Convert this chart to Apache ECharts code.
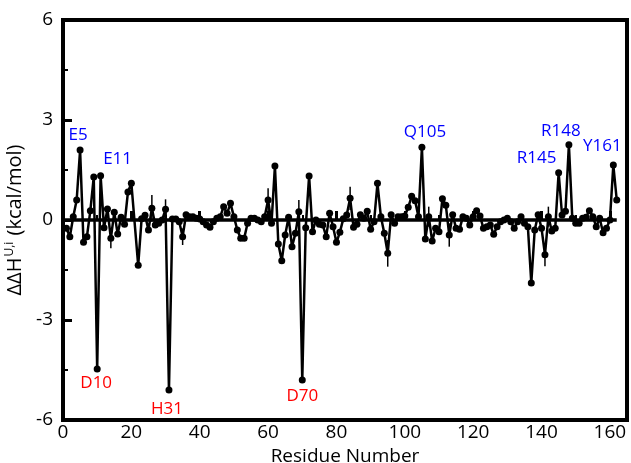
<!DOCTYPE html>
<html>
<head>
<meta charset="utf-8">
<script src="https://cdn.jsdelivr.net/npm/echarts@6/dist/echarts.min.js"></script>
<style>html,body{margin:0;padding:0;background:#fff;}#c{width:631px;height:463px;}</style>
</head>
<body>
<div id="c"></div>
<script>
// Residue numbers (residue 21 absent in the data)
const residues = [
  1,2,3,4,5,6,7,8,9,10,11,12,13,14,15,16,17,18,19,20,
  22,23,24,25,26,27,28,29,30,31,32,33,34,35,36,37,38,39,40,
  41,42,43,44,45,46,47,48,49,50,51,52,53,54,55,56,57,58,59,60,
  61,62,63,64,65,66,67,68,69,70,71,72,73,74,75,76,77,78,79,80,
  81,82,83,84,85,86,87,88,89,90,91,92,93,94,95,96,97,98,99,100,
  101,102,103,104,105,106,107,108,109,110,111,112,113,114,115,116,117,118,119,120,
  121,122,123,124,125,126,127,128,129,130,131,132,133,134,135,136,137,138,139,140,
  141,142,143,144,145,146,147,148,149,150,151,152,153,154,155,156,157,158,159,160,
  161,162
];
// ΔΔH (kcal/mol) per residue
const ddH = [
  -0.25,-0.5,0.1,0.6,2.1,-0.67,-0.5,0.28,1.29,-4.47,1.33,-0.23,0.33,-0.55,0.23,-0.42,0.08,-0.13,0.84,1.1,
  -1.36,0.04,0.14,-0.3,0.35,-0.15,-0.1,0.0,0.32,-5.1,0.03,0.03,-0.05,-0.5,0.16,0.1,0.1,0.05,0.03,
  -0.05,-0.15,-0.22,-0.05,0.05,0.1,0.4,0.2,0.5,0.1,-0.3,-0.55,-0.55,-0.1,0.05,0.05,0.0,-0.05,0.1,0.6,
  -0.1,1.62,-0.72,-1.22,-0.45,0.08,-0.8,-0.4,0.25,-4.8,-0.23,1.32,-0.35,0.0,-0.13,-0.15,-0.5,0.2,-0.2,-0.67,
  -0.37,0.04,0.15,0.65,-0.22,-0.13,0.16,0.05,0.26,-0.28,-0.05,1.1,0.1,-0.4,-1.0,0.16,-0.1,0.1,0.1,0.12,
  0.38,0.71,0.58,0.1,2.18,-0.57,0.1,-0.63,-0.25,-0.35,0.64,0.44,-0.45,0.16,-0.25,-0.28,0.1,0.05,-0.15,0.1,
  0.28,0.12,-0.25,-0.2,-0.15,-0.43,-0.2,-0.05,0.0,0.05,-0.05,-0.25,-0.05,0.1,-0.1,-0.2,-1.89,-0.3,0.16,-0.25,
  -1.04,0.1,-0.33,-0.25,1.42,0.15,0.26,2.26,0.05,-0.1,-0.1,0.05,0.08,0.28,0.1,-0.2,0.05,-0.38,-0.25,0.0,
  1.65,0.6
];
// visible error bars: residue and half-width
const errResidues = [14,26,30,35,60,69,84,95,107,113,141,142];
const errValues   = [0.3,0.4,0.3,0.25,0.35,0.35,0.35,0.4,0.3,0.35,0.35,0.3];
// annotated residues
const annotations = ['E5','D10','E11','H31','D70','Q105','R145','R148','Y161'];
const xTicks = [0,20,40,60,80,100,120,140,160];
const yTicks = [-6,-3,0,3,6];

const FONT = 'Open Sans';
const labelOffsets = {
  E5:[-2,-15], D10:[-1,14], E11:[17,-17], H31:[-2,19], D70:[0,16],
  Q105:[3,-15], R145:[-22,-15], R148:[-8,-14], Y161:[-11,-19]
};
const valueOf = r => ddH[residues.indexOf(r)];
const lineData = residues.map((r,i)=>[r, ddH[i]]);
const errData = errResidues.map((r,i)=>[r, valueOf(r), errValues[i]]);
const annData = annotations.map(n=>{
  const r = parseInt(n.slice(1),10);
  const v = valueOf(r);
  return {
    value:[r,v],
    label:{show:true, formatter:n, offset:labelOffsets[n], color: v>0?'#0000ff':'#ff0000'}
  };
});

const chart = echarts.init(document.getElementById('c'), null, {renderer:'canvas'});
chart.setOption({
  animation:false,
  grid:{left:63,right:4,top:20,bottom:43,containLabel:false,outerBoundsMode:'none',
    show:true,borderColor:'#000',borderWidth:4,backgroundColor:'transparent'},
  xAxis:{
    type:'value', min:0, max:165, interval:20,
    name:'Residue Number', nameLocation:'middle', nameGap:21,
    nameTextStyle:{fontFamily:FONT,fontSize:19,color:'#000'},
    axisLine:{show:false},
    axisTick:{show:true,inside:true,length:9,lineStyle:{color:'#000',width:3}},
    minorTick:{show:true,splitNumber:2,length:5,lineStyle:{color:'#000',width:2}},
    splitLine:{show:false},
    axisLabel:{fontFamily:FONT,fontSize:19,color:'#000',margin:3,
      formatter:v=> xTicks.includes(v)?String(v):''}
  },
  yAxis:{
    type:'value', min:-6, max:6, interval:3,
    name:'{a|ΔΔH}{s|U,i}{a| (kcal/mol)}', nameLocation:'middle', nameGap:31, nameRotate:90,
    nameTextStyle:{rich:{
      a:{fontFamily:FONT,fontSize:20,color:'#000',lineHeight:24},
      s:{fontFamily:FONT,fontSize:12,color:'#000',lineHeight:13,verticalAlign:'top',padding:[0,1,0,1]}
    }},
    axisLine:{show:false},
    axisTick:{show:true,inside:true,length:9,lineStyle:{color:'#000',width:3}},
    minorTick:{show:true,splitNumber:2,length:5,lineStyle:{color:'#000',width:2}},
    splitLine:{show:false},
    axisLabel:{fontFamily:FONT,fontSize:19,color:'#000',margin:10,
      formatter:v=> yTicks.includes(v)?String(v):''}
  },
  series:[
    {
      type:'line', data:lineData, symbol:'circle', symbolSize:7,
      itemStyle:{color:'#000'}, lineStyle:{color:'#000',width:2.5},
      z:3,
      markLine:{silent:true,symbol:['none','none'],label:{show:false},
        lineStyle:{color:'#000',width:3.5,type:'solid'},
        data:[[{coord:[0,0]},{coord:[162,0]}]]}
    },
    {
      type:'custom', data:errData, z:4,
      renderItem:(params,api)=>{
        const x=api.value(0), y=api.value(1), e=api.value(2);
        const p1=api.coord([x,y+e]), p2=api.coord([x,y-e]);
        return {type:'line',shape:{x1:p1[0],y1:p1[1],x2:p2[0],y2:p2[1]},style:{stroke:'#000',lineWidth:1.5}};
      }
    },
    {
      type:'scatter', data:annData, symbolSize:0, z:5, itemStyle:{opacity:1},
      label:{show:true, position:'inside', fontFamily:FONT, fontSize:17, align:'center', verticalAlign:'middle'}
    }
  ]
});
</script>
</body>
</html>
